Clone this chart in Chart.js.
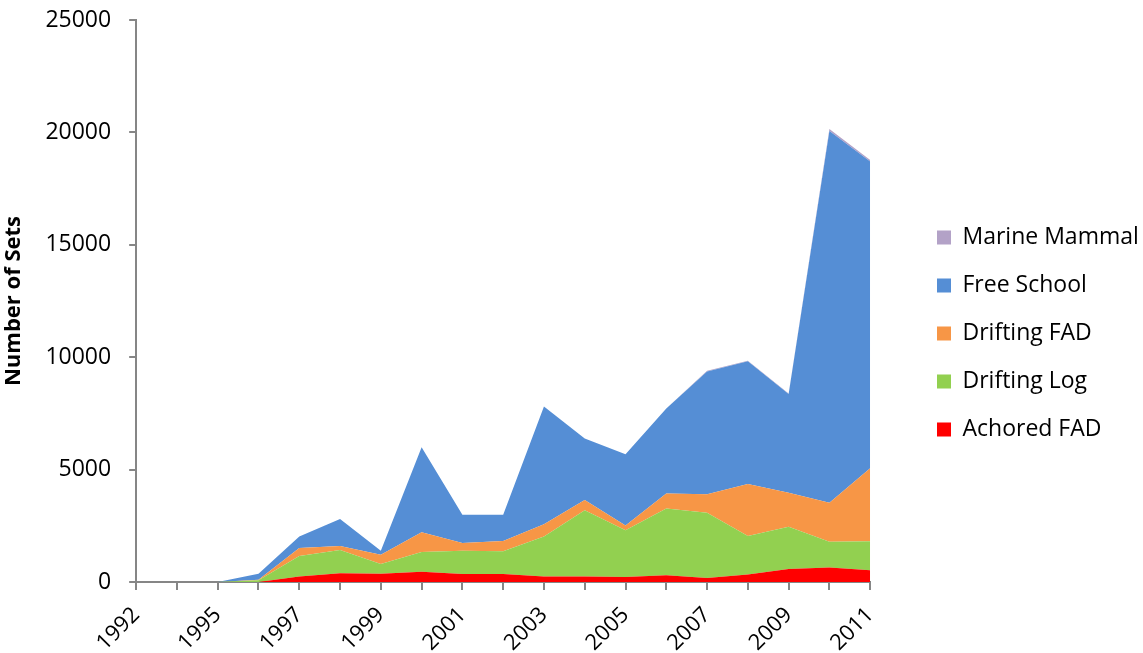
<!DOCTYPE html>
<html>
<head>
<meta charset="utf-8">
<script src="https://cdn.jsdelivr.net/npm/chart.js@4.4.1/dist/chart.umd.min.js"></script>
<style>
  html, body { margin: 0; padding: 0; background: #fff; }
  #wrap { width: 1143px; height: 653px; }
</style>
</head>
<body>
<div id="wrap"><canvas id="canvas1"></canvas></div>
<script>
const years = ['1992', '1994', '1995', '1996', '1997', '1998', '1999', '2000', '2001', '2002',
               '2003', '2004', '2005', '2006', '2007', '2008', '2009', '2010', '2011'];
const achoredFad = [0, 0, 0, 0, 240, 385, 370, 460, 360, 355, 240, 240, 220, 300, 180, 330, 580, 640, 520];
const driftingLog = [0, 0, 0, 80, 920, 1040, 430, 875, 1035, 1010, 1780, 2950, 2080, 2975, 2905, 1715, 1880, 1155, 1290];
const driftingFad = [0, 0, 0, 20, 355, 180, 415, 875, 340, 455, 550, 460, 210, 665, 815, 2315, 1510, 1735, 3250];
const freeSchool = [0, 0, 0, 270, 505, 1200, 180, 3780, 1260, 1175, 5235, 2730, 3175, 3780, 5460, 5455, 4390, 16530, 13645];
const marineMammal = [0, 0, 0, 0, 0, 0, 0, 0, 0, 0, 0, 0, 0, 0, 40, 30, 20, 90, 70];
const yTicks = [0, 5000, 10000, 15000, 20000, 25000];

const FONT = "'Open Sans', sans-serif";
const axisGray = '#868686';

// move the legend to where excel put it
const legendNudge = {
    id: 'legendNudge',
    afterLayout(chart) {
        const lg = chart.legend;
        const dx = 912 - lg.left;
        lg.left += dx;
        lg.right += dx;
        lg.top += 7;
        lg.bottom += 7;
    }
};

const area = (label, values, color, fill) => ({
    label: label,
    data: values,
    backgroundColor: color,
    borderColor: color,
    borderWidth: 0,
    pointRadius: 0,
    tension: 0,
    fill: fill
});

const data = {
    labels: years,
    datasets: [
        area('Achored FAD', achoredFad, '#FF0000', 'origin'),
        area('Drifting Log', driftingLog, '#92D050', '-1'),
        area('Drifting FAD', driftingFad, '#F79646', '-1'),
        area('Free School', freeSchool, '#558ED5', '-1'),
        area('Marine Mammal', marineMammal, '#B3A2C7', '-1')
    ]
};

const config = {
    type: 'line',
    data: data,
    plugins: [legendNudge],
    options: {
        responsive: false,
        animation: false,
        layout: { padding: { left: 1, right: 36, top: 0, bottom: 0 } },
        plugins: {
            legend: {
                display: true,
                position: 'right',
                reverse: true,
                labels: {
                    boxWidth: 14,
                    boxHeight: 14,
                    padding: 25,
                    color: '#000',
                    font: { family: FONT, size: 23 }
                }
            },
            tooltip: { enabled: false }
        },
        scales: {
            x: {
                offset: false,
                afterFit: (scale) => { scale.height = 71; },
                grid: { drawOnChartArea: false, drawTicks: true, tickLength: 8, color: axisGray, lineWidth: 2 },
                border: { color: axisGray, width: 2 },
                ticks: {
                    autoSkip: false,
                    minRotation: 45,
                    maxRotation: 45,
                    padding: 12,
                    color: '#000',
                    font: { family: FONT, size: 22 },
                    callback: (v, i) => (i % 2 === 0 ? years[i] : '')
                }
            },
            y: {
                stacked: true,
                min: 0,
                max: 25000,
                afterBuildTicks: (axis) => { axis.ticks = yTicks.map(v => ({ value: v })); },
                afterFit: (scale) => { scale.paddingTop = 20; scale.paddingBottom = 0; },
                grid: { drawOnChartArea: false, drawTicks: true, tickLength: 7, color: axisGray, lineWidth: 2 },
                border: { color: axisGray, width: 2 },
                ticks: {
                    padding: 18,
                    color: '#000',
                    font: { family: FONT, size: 23 },
                    callback: (v) => String(v)
                },
                title: {
                    display: true,
                    text: 'Number of Sets',
                    color: '#000',
                    padding: { top: 0, bottom: 0 },
                    font: { family: FONT, size: 22, weight: 'bold' }
                }
            }
        }
    }
};

const canvas = document.getElementById('canvas1');
canvas.width = 1143;
canvas.height = 653;
new Chart(canvas, config);
</script>
</body>
</html>
